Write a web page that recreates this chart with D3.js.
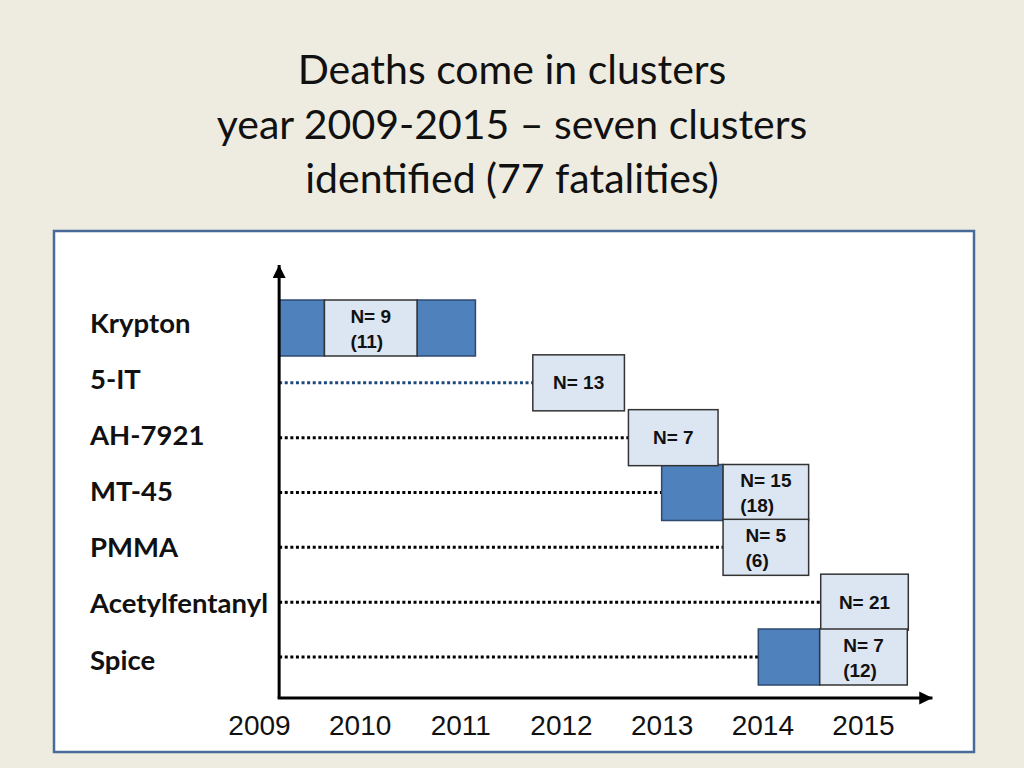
<!DOCTYPE html>
<html>
<head>
<meta charset="utf-8">
<script src="https://cdn.jsdelivr.net/npm/d3@7"></script>
<style>
  html, body { margin: 0; padding: 0; background: #EEECE1; }
  svg { display: block; }
</style>
</head>
<body>
<svg id="chart" width="1024" height="768"></svg>
<script>
// ---------- DATA ----------
const titleLines = ["Deaths come in clusters", "year 2009-2015 \u2013 seven clusters", "identified (77 fatalities)"];
const drugs = ["Krypton", "5-IT", "AH-7921", "MT-45", "PMMA", "Acetylfentanyl", "Spice"];
const years = [2009, 2010, 2011, 2012, 2013, 2014, 2015];

// light (labelled) cluster boxes, one per drug, in fractional years
const lightStart = [2009.65, 2011.72, 2012.67, 2013.61, 2013.61, 2014.58, 2014.57];
const lightEnd   = [2010.57, 2012.63, 2013.56, 2014.46, 2014.46, 2015.45, 2015.44];
const nCases     = [9, 13, 7, 15, 5, 21, 7];
const nTotal     = [11, null, null, 18, 6, null, 12];

// dark (extended period) boxes
const darkDrug  = ["Krypton", "Krypton", "MT-45", "Spice"];
const darkStart = [2009.2, 2010.57, 2013.0, 2013.96];
const darkEnd   = [2009.65, 2011.15, 2013.61, 2014.57];

const axisStart = 2009.2;
const axisEnd = 2015.69;

// ---------- CHART ----------
const svg = d3.select("#chart");

// title
svg.append("g").selectAll("text").data(titleLines).join("text")
  .attr("x", 512)
  .attr("y", (d, i) => 84 + i * 54.5)
  .attr("text-anchor", "middle")
  .attr("font-family", "Lato, 'Open Sans', sans-serif")
  .attr("font-size", 41)
  .attr("fill", "#111")
  .text(d => d);

// panel
svg.append("rect")
  .attr("x", 54).attr("y", 231)
  .attr("width", 920).attr("height", 521)
  .attr("fill", "#ffffff")
  .attr("stroke", "#4A6A9A")
  .attr("stroke-width", 2.5);

const x = d3.scaleLinear().domain([2009, 2015]).range([259, 863]);
const y = d3.scalePoint().domain(drugs).range([328, 657]);
const yLabel = d3.scalePoint().domain(drugs).range([323, 660]);
const boxH = 56;

const originX = x(axisStart);
const baseY = 698;

// row labels
svg.append("g").selectAll("text").data(drugs).join("text")
  .attr("x", 90)
  .attr("y", d => yLabel(d))
  .attr("dy", "0.35em")
  .attr("font-family", "Lato, 'Open Sans', sans-serif")
  .attr("font-weight", "bold")
  .attr("font-size", 27.5)
  .attr("fill", "#111")
  .text(d => d);

// dotted guide lines (all rows except the first, which starts at the axis)
const rows = drugs.map((d, i) => {
  const ds = darkDrug.map((dd, j) => dd === d ? darkStart[j] : Infinity);
  return { drug: d, i, first: Math.min(lightStart[i], ...ds) };
});
svg.append("g").selectAll("line").data(rows.filter(r => r.first > axisStart + 0.01)).join("line")
  .attr("x1", originX)
  .attr("x2", r => x(r.first))
  .attr("y1", r => y(r.drug))
  .attr("y2", r => y(r.drug))
  .attr("stroke", r => r.i === 1 ? "#1F497D" : "#000")
  .attr("stroke-width", 3)
  .attr("stroke-dasharray", "3,2.6");

// dark boxes
svg.append("g").selectAll("rect").data(darkDrug.map((d, j) => ({ d, s: darkStart[j], e: darkEnd[j] }))).join("rect")
  .attr("x", b => x(b.s))
  .attr("y", b => y(b.d) - boxH / 2)
  .attr("width", b => x(b.e) - x(b.s))
  .attr("height", boxH)
  .attr("fill", "#4F81BD")
  .attr("stroke", "#2C4A70")
  .attr("stroke-width", 1.5);

// light boxes
const light = svg.append("g").selectAll("g").data(drugs.map((d, i) => ({ d, i }))).join("g");
light.append("rect")
  .attr("x", b => x(lightStart[b.i]))
  .attr("y", b => y(b.d) - boxH / 2)
  .attr("width", b => x(lightEnd[b.i]) - x(lightStart[b.i]))
  .attr("height", boxH)
  .attr("fill", "#DCE6F2")
  .attr("stroke", "#333")
  .attr("stroke-width", 1.5);

light.each(function (b) {
  const g = d3.select(this);
  const lines = ["N= " + nCases[b.i]];
  if (nTotal[b.i] != null) lines.push("(" + nTotal[b.i] + ")");
  const cy = y(b.d);
  const t = g.selectAll("text.lab").data(lines).join("text")
    .attr("class", "lab")
    .attr("font-family", "'Liberation Sans', Arial, sans-serif")
    .attr("font-weight", "bold")
    .attr("font-size", 19)
    .attr("fill", "#111")
    .attr("y", (d, k) => lines.length === 1 ? cy : cy - 12 + k * 25)
    .attr("dy", "0.35em")
    .text(d => d);
  let w = 0;
  t.each(function () { w = Math.max(w, this.getComputedTextLength()); });
  const cx = (x(lightStart[b.i]) + x(lightEnd[b.i])) / 2;
  t.attr("x", cx - w / 2);
});

// axes with arrows
const defs = svg.append("defs");
defs.append("marker")
  .attr("id", "arrow")
  .attr("viewBox", "0 0 10 10")
  .attr("refX", 10).attr("refY", 5)
  .attr("markerWidth", 4.4).attr("markerHeight", 4.4)
  .attr("markerUnits", "strokeWidth")
  .attr("orient", "auto")
  .append("path").attr("d", "M0,0 L10,5 L0,10 Z").attr("fill", "#000");

svg.append("line")
  .attr("x1", originX).attr("y1", baseY)
  .attr("x2", originX).attr("y2", 265)
  .attr("stroke", "#000").attr("stroke-width", 3)
  .attr("marker-end", "url(#arrow)");
svg.append("line")
  .attr("x1", originX - 1.5).attr("y1", baseY)
  .attr("x2", x(axisEnd)).attr("y2", baseY)
  .attr("stroke", "#000").attr("stroke-width", 3)
  .attr("marker-end", "url(#arrow)");

// year labels
const xAxis = d3.axisBottom(x).tickValues(years).tickFormat(d3.format("d")).tickSize(0).tickPadding(17);
const ax = svg.append("g").attr("transform", `translate(0,${baseY})`).call(xAxis);
ax.select(".domain").remove();
ax.selectAll("text")
  .attr("font-family", "'Liberation Sans', Arial, sans-serif")
  .attr("font-size", 28)
  .attr("fill", "#111");
</script>
</body>
</html>
